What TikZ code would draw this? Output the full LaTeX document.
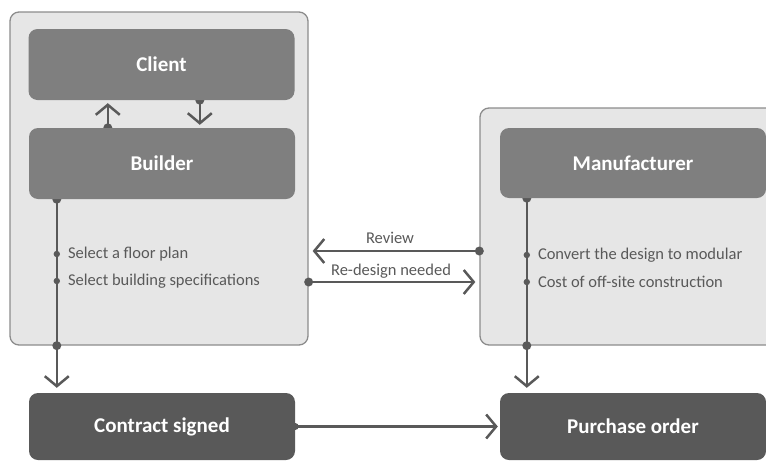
\documentclass[tikz,border=0pt]{standalone}
\usepackage{fontspec}
\setmainfont{Carlito}
\usetikzlibrary{arrows.meta,calc}
\pgfdeclarelayer{back}
\pgfdeclarelayer{mid}
\pgfsetlayers{back,mid,main}
\definecolor{contfill}{HTML}{E6E6E6}
\definecolor{contborder}{HTML}{8C8C8C}
\definecolor{actorfill}{HTML}{7F7F7F}
\definecolor{resfill}{HTML}{595959}
\definecolor{linec}{HTML}{595959}
\definecolor{txtc}{HTML}{595959}
\tikzset{
  container/.style={draw=contborder, fill=contfill, rounded corners=9pt, line width=1.3pt, inner sep=0pt},
  actor/.style={fill=actorfill, rounded corners=9pt, text=white, inner sep=0pt,
    font=\bfseries\fontsize{21}{25}\selectfont, minimum width=266pt},
  result/.style={actor, fill=resfill},
  link/.style={draw=linec, line width=2.5pt, -{Straight Barb[length=10pt,width=24pt]}},
  note/.style={text=txtc, font=\fontsize{16.5}{19}\selectfont, inner sep=0pt},
  bigdot/.style={fill=linec},
}
\begin{document}
\begin{tikzpicture}[x=1pt,y=-1pt]
\useasboundingbox (0,0) rectangle (766,461);
\begin{pgfonlayer}{back}
  \node[container, minimum width=298pt, minimum height=333pt] (contL) at (159,178.5) {};
  \node[container, minimum width=310pt, minimum height=237pt] (contR) at (635,226.5) {};
\end{pgfonlayer}
\node[actor, minimum height=71pt] (client) at (161.5,64.5) {Client};
\node[actor, minimum height=71pt] (builder) at (162,163.5) {Builder};
\node[actor, minimum height=70pt] (manu) at (633,163) {Manufacturer};
\node[result, minimum height=67pt] (contract) at (162,426.5) {Contract signed};
\node[result, minimum height=67pt] (purchase) at (633,426.5) {Purchase order};
% coordinates
\coordinate (upS) at ([xshift=79pt]builder.north west);
\coordinate (dnS) at ([xshift=171.5pt]client.south west);
\coordinate (bS) at ([xshift=28pt]builder.south west);
\coordinate (mS) at ([xshift=27pt]manu.south west);
\coordinate (b1) at (bS |- 0,254);
\coordinate (b2) at (bS |- 0,281);
\coordinate (m1) at (mS |- 0,255);
\coordinate (m2) at (mS |- 0,282);
\coordinate (bE) at (bS |- contL.south);
\coordinate (mE) at (mS |- contR.south);
\coordinate (rvS) at (contR.west |- 0,251);
\coordinate (rdS) at (contL.east |- 0,282);
\begin{pgfonlayer}{mid}
  \draw[link, shorten >=3pt] (upS) -- (upS |- client.south);
  \fill[bigdot] (upS) circle (4.5pt);
  \draw[link, shorten >=3pt] (dnS) -- (dnS |- builder.north);
  \fill[bigdot] (dnS) circle (4.5pt);
  \draw[link, shorten >=5pt] (bS) -- (bS |- contract.north);
  \fill[bigdot] (bS) circle (4.5pt);
  \fill[bigdot] (bE) circle (4.5pt);
  \fill[bigdot] (b1) circle (3.2pt);
  \fill[bigdot] (b2) circle (3.2pt);
  \draw[link, shorten >=5pt] (mS) -- (mS |- purchase.north);
  \fill[bigdot] (mS) circle (4.5pt);
  \fill[bigdot] (mE) circle (4.5pt);
  \fill[bigdot] (m1) circle (3.2pt);
  \fill[bigdot] (m2) circle (3.2pt);
  \draw[link, shorten >=4pt] (rvS) -- (contL.east |- rvS);
  \fill[bigdot] (rvS) circle (4.5pt);
  \draw[link, shorten >=4pt] (rdS) -- (contR.west |- rdS);
  \fill[bigdot] (rdS) circle (4.5pt);
  \draw[link, shorten >=2pt] (contract.east) -- (purchase.west);
  \fill[bigdot] (contract.east) circle (3.5pt);
\end{pgfonlayer}
\node[note, anchor=west] (t1) at ([xshift=11pt]b1) {Select a floor plan};
\node[note, anchor=west] (t2) at ([xshift=11pt]b2) {Select building specifications};
\node[note, anchor=west] (t3) at ([xshift=11pt]m1) {Convert the design to modular};
\node[note, anchor=west] (t4) at ([xshift=11pt]m2) {Cost of off-site construction};
\node[note] (lrv) at (390,238) {Review};
\node[note] (lrd) at (391,271) {Re-design needed};
\end{tikzpicture}
\end{document}
